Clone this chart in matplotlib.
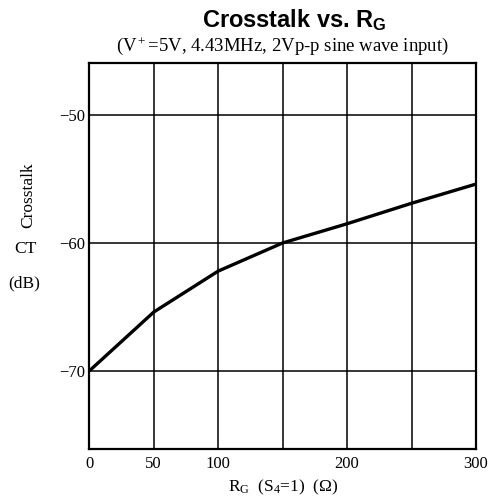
import matplotlib
matplotlib.use("Agg")
import matplotlib.pyplot as plt

# values
rg_ohm = [0, 50, 100, 150, 200, 250, 300]
crosstalk_db = [-70.0, -65.4, -62.2, -60.0, -58.5, -56.9, -55.4]

x_grid = [0, 50, 100, 150, 200, 250, 300]
x_labels = ["0", "50", "100", "", "200", "", "300"]
y_ticks = [-50, -60, -70]
y_labels = ["\u221250", "\u221260", "\u221270"]

plt.rcParams["mathtext.fontset"] = "custom"
plt.rcParams["mathtext.rm"] = "Liberation Serif"
plt.rcParams["mathtext.it"] = "Liberation Serif:italic"
plt.rcParams["mathtext.bf"] = "Liberation Sans:bold"
plt.rcParams["font.family"] = "Liberation Serif"

W, H = 496, 501
fig = plt.figure(figsize=(W / 100, H / 100), dpi=100)
left, right, top, bottom = 89.3, 476.0, 63.0, 449.0
ax = fig.add_axes([left / W, 1 - bottom / H, (right - left) / W, (bottom - top) / H])

ax.plot(rg_ohm, crosstalk_db, color="black", linewidth=2.4, solid_capstyle="butt")

ax.set_xlim(0, 300)
ax.set_ylim(-76.1, -45.94)
ax.set_xticks(x_grid)
ax.set_xticklabels(x_labels, fontsize=12)
ax.set_yticks(y_ticks)
ax.set_yticklabels(y_labels, fontsize=12)
ax.tick_params(axis="both", length=0)
ax.tick_params(axis="x", pad=5)
ax.tick_params(axis="y", pad=3)
ax.grid(True, color="black", linewidth=1.1)
for spine in ax.spines.values():
    spine.set_linewidth(1.6)

fig.text(283 / W, 1 - 487 / H, r"R$_\mathrm{G}$  (S$_\mathrm{4}$=1)  ($\Omega$)",
         fontsize=12.5, ha="center", va="center")

fig.text(28 / W, 1 - 195 / H, "Crosstalk", rotation=90, fontsize=12.5,
         ha="center", va="center")
fig.text(25 / W, 1 - 249 / H, "CT", fontsize=12.5, ha="center", va="center")
fig.text(24 / W, 1 - 283 / H, "(dB)", fontsize=12.5, ha="center", va="center")

fig.text(294 / W, 1 - 20 / H, r"Crosstalk vs. R$_\mathbf{G}$", family="Liberation Sans",
         fontweight="bold", fontsize=17, ha="center", va="center")
fig.text(282 / W, 1 - 46 / H, "(V$^+$=5V, 4.43MHz, 2Vp-p sine wave input)",
         fontsize=13.5, ha="center", va="center")

fig.savefig("out.png", dpi=100)
